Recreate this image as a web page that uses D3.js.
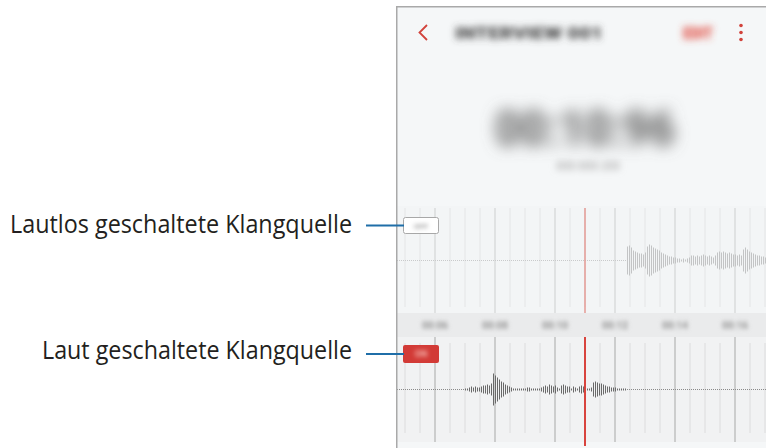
<!DOCTYPE html>
<html>
<head>
<meta charset="utf-8">
<script src="https://cdn.jsdelivr.net/npm/d3@7"></script>
<style>
  body { margin: 0; background: #ffffff; }
  svg { display: block; }
</style>
</head>
<body>
<svg id="screen" width="766" height="448"></svg>
<script>
// labels on the left
const calloutLabels = ["Lautlos geschaltete Klangquelle", "Laut geschaltete Klangquelle"];
// timeline tick labels (seconds)
const tickSeconds = [6, 8, 10, 12, 14, 16];
const tickLabels = ["00:06", "00:08", "00:10", "00:12", "00:14", "00:16"];
const playheadSec = 11.0;
const sampleStep = 1 / 15;

// muted track (top), starts at 12.4 s
const mutedStart = 12.4;
const mutedAmp = [14, 15, 13, 10, 9, 8, 7, 7, 6, 8, 14, 16, 15, 13, 12, 11, 10, 8, 7, 6,
                  5, 4, 4, 3, 3, 2, 2, 1, 2, 1, 2, 3, 5, 5, 4, 5, 4, 5, 6, 5,
                  4, 5, 4, 3, 5, 8, 9, 8, 9, 8, 7, 8, 7, 6, 6, 5, 6, 5, 11, 13,
                  11, 9, 8, 7, 6, 5, 5, 4, 4, 3];

// audible track (bottom), starts at 7.0 s
const audibleStart = 7.0;
const audibleAmp = [1, 1, 2, 3, 2, 3, 2, 2, 3, 4, 4, 5, 4, 6, 16, 14, 12, 10, 8, 7,
                    5, 4, 3, 2, 1, 1, 1, 1, 1, 1, 1, 2, 2, 1, 1, 1, 1, 1, 2, 3,
                    4, 3, 5, 4, 3, 4, 2, 1, 4, 5, 4, 3, 3, 1, 3, 2, 1, 3, 4, 3,
                    2, 1, 1, 2, 7, 8, 7, 6, 6, 5, 4, 3, 3, 2, 2, 2, 1, 1, 1, 1, 1];
const audibleTailStart = 17.2;
const audibleTailAmp = [3, 6, 5];

var svg = d3.select("#screen");

var x = d3.scaleLinear().domain([6, 16]).range([435, 735]);
var amp = d3.scaleLinear().domain([0, 16]).range([0, 16]);

var defs = svg.append("defs");
[["blurS", 2.2], ["blurM", 3.5], ["blurL", 7.5]].forEach(function(b){
    defs.append("filter").attr("id", b[0])
        .attr("x", "-40%").attr("y", "-80%").attr("width", "180%").attr("height", "260%")
        .append("feGaussianBlur").attr("stdDeviation", b[1]);
});
defs.append("clipPath").attr("id", "phoneClip")
    .append("rect").attr("x", 397).attr("y", 7).attr("width", 369).attr("height", 441);

// phone screen
svg.append("rect").attr("x", 396).attr("y", 6).attr("width", 370).attr("height", 442)
    .attr("fill", "#f5f7f8");

var screen = svg.append("g").attr("clip-path", "url(#phoneClip)");

// header
screen.append("path")
    .attr("d", "M427,25 L419.5,32.5 L427,40")
    .attr("fill", "none").attr("stroke", "#d2433b").attr("stroke-width", 1.8);
screen.append("text").attr("x", 455).attr("y", 39)
    .attr("textLength", 148).attr("lengthAdjust", "spacingAndGlyphs")
    .style("font-family", "Roboto").style("font-weight", "900").style("font-size", "17px")
    .style("fill", "#484848").attr("filter", "url(#blurM)")
    .text("INTERVIEW 001");
screen.append("text").attr("x", 683).attr("y", 39)
    .attr("textLength", 30).attr("lengthAdjust", "spacingAndGlyphs")
    .style("font-family", "Roboto").style("font-weight", "900").style("font-size", "16px")
    .style("fill", "#e04a3c").attr("filter", "url(#blurM)")
    .text("EDIT");
screen.selectAll("circle.menu").data([25.5, 32.5, 39.5]).enter().append("circle")
    .attr("cx", 741).attr("cy", d => d).attr("r", 1.8).attr("fill", "#d2433b");

// recorded time
screen.append("text").attr("x", 585).attr("y", 146).attr("text-anchor", "middle")
    .attr("textLength", 180).attr("lengthAdjust", "spacingAndGlyphs")
    .style("font-family", "Roboto").style("font-weight", "900").style("font-size", "50px")
    .style("fill", "#6e6e6e").attr("filter", "url(#blurL)")
    .text("00:10:96");
screen.append("text").attr("x", 588).attr("y", 170).attr("text-anchor", "middle")
    .attr("textLength", 64).attr("lengthAdjust", "spacingAndGlyphs")
    .style("font-family", "Roboto").style("font-weight", "bold").style("font-size", "12px")
    .style("fill", "#b5b5b5").attr("filter", "url(#blurM)")
    .text("00:00:20");

// panels
var panels = [
    {y0: 206, y1: 313, minor: [208, 307], major: [208, 313], base: 260.5,
     fill: "#f3f5f6", majorCol: "#d6d7d8", minorCol: "#e4e5e6",
     head: [208, 313], headCol: "#e59a94", headW: 1.5},
    {y0: 337, y1: 442, minor: [343, 433], major: [337, 442], base: 389.5,
     fill: "#f1f2f3", majorCol: "#b9b9b9", minorCol: "#dcdcdd",
     head: [337, 446], headCol: "#d8443e", headW: 2}
];
var majorTicks = tickSeconds;
var minorTicks = d3.range(9, 35).map(d => d / 2).filter(d => majorTicks.indexOf(d) < 0);

panels.forEach(function(p){
    screen.append("rect").attr("x", 397).attr("y", p.y0)
        .attr("width", 369).attr("height", p.y1 - p.y0).attr("fill", p.fill);
    screen.append("g").selectAll("line").data(minorTicks).enter().append("line")
        .attr("x1", d => x(d)).attr("x2", d => x(d))
        .attr("y1", p.minor[0]).attr("y2", p.minor[1])
        .attr("stroke", p.minorCol).attr("stroke-width", 1);
    screen.append("g").selectAll("line").data(majorTicks).enter().append("line")
        .attr("x1", d => x(d)).attr("x2", d => x(d))
        .attr("y1", p.major[0]).attr("y2", p.major[1])
        .attr("stroke", p.majorCol).attr("stroke-width", 1.3);
});

// timeline band
screen.append("rect").attr("x", 397).attr("y", 313).attr("width", 369).attr("height", 24)
    .attr("fill", "#eaebec");
screen.append("g").selectAll("text").data(tickSeconds).enter().append("text")
    .attr("x", d => x(d)).attr("y", 329).attr("text-anchor", "middle")
    .style("font-family", "Roboto").style("font-size", "10px").style("font-weight", "900")
    .style("fill", "#a0a0a0").attr("filter", "url(#blurS)")
    .text((d, i) => tickLabels[i]);

// waveforms
function drawWave(p, start, values, color, baseColor, drawBase) {
    if (drawBase) {
        screen.append("line").attr("x1", 397).attr("x2", 766)
            .attr("y1", p.base).attr("y2", p.base)
            .attr("stroke", baseColor).attr("stroke-width", 1)
            .attr("stroke-dasharray", "1,1");
    }
    screen.append("g").selectAll("line").data(values).enter().append("line")
        .attr("x1", (d, i) => x(start + i * sampleStep) + 0.5)
        .attr("x2", (d, i) => x(start + i * sampleStep) + 0.5)
        .attr("y1", d => p.base - amp(d))
        .attr("y2", d => p.base + amp(d))
        .attr("stroke", color).attr("stroke-width", 1);
}
drawWave(panels[0], mutedStart, mutedAmp, "#c3c4c5", "#c9cacb", true);
drawWave(panels[1], audibleStart, audibleAmp, "#6a6a6a", "#8a8a8a", true);
drawWave(panels[1], audibleTailStart, audibleTailAmp, "#6a6a6a", "#8a8a8a", false);

// playheads
panels.forEach(function(p){
    screen.append("line").attr("x1", x(playheadSec)).attr("x2", x(playheadSec))
        .attr("y1", p.head[0]).attr("y2", p.head[1])
        .attr("stroke", p.headCol).attr("stroke-width", p.headW);
});

// OFF / ON badges
screen.append("rect").attr("x", 403.5).attr("y", 217.5).attr("width", 35).attr("height", 16).attr("rx", 2)
    .attr("fill", "#ffffff").attr("stroke", "#a8a8a8").attr("stroke-width", 1);
screen.append("text").attr("x", 421).attr("y", 229).attr("text-anchor", "middle")
    .style("font-family", "Roboto").style("font-size", "8px").style("font-weight", "bold")
    .style("fill", "#a0a0a0").attr("filter", "url(#blurS)").text("OFF");
screen.append("rect").attr("x", 403).attr("y", 345).attr("width", 36).attr("height", 18).attr("rx", 2)
    .attr("fill", "#d23a36");
screen.append("text").attr("x", 421).attr("y", 357).attr("text-anchor", "middle")
    .style("font-family", "Roboto").style("font-size", "9px").style("font-weight", "bold")
    .style("fill", "#f6b9b2").attr("filter", "url(#blurS)").text("ON");

// phone frame
svg.append("path").attr("d", "M396.75,448 L396.75,6.75 L766,6.75")
    .attr("fill", "none").attr("stroke", "#a9a9a9").attr("stroke-width", 1.5);

// callouts
var callouts = [
    {label: calloutLabels[0], y: 233, len: 342, line: 225.5},
    {label: calloutLabels[1], y: 358.5, len: 310, line: 354}
];
svg.selectAll("text.callout").data(callouts).enter().append("text")
    .attr("class", "callout")
    .attr("x", 352).attr("y", d => d.y).attr("text-anchor", "end")
    .attr("textLength", d => d.len).attr("lengthAdjust", "spacingAndGlyphs")
    .style("font-family", "Open Sans").style("font-size", "25px")
    .style("fill", "#231f20")
    .text(d => d.label);
svg.selectAll("line.callout").data(callouts).enter().append("line")
    .attr("class", "callout")
    .attr("x1", 366).attr("x2", 404)
    .attr("y1", d => d.line).attr("y2", d => d.line)
    .attr("stroke", "#1f6ea8").attr("stroke-width", 2);
</script>
</body>
</html>
